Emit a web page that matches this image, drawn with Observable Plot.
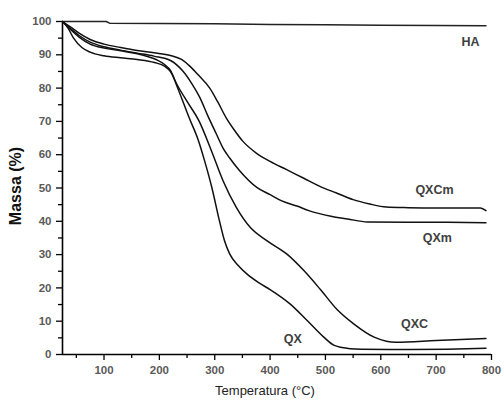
<!DOCTYPE html>
<html><head><meta charset="utf-8">
<script src="https://cdn.jsdelivr.net/npm/d3@7"></script>
<script src="https://cdn.jsdelivr.net/npm/@observablehq/plot@0.6"></script>
<style>
body{margin:0;background:#fff;}
g[aria-label="curve-labels"] text{letter-spacing:1.2px;}
g[aria-label="x-title"] text{letter-spacing:0.5px;}
</style></head><body><div id="chart"></div>
<script>
// Temperature (°C) and mass (%) readings for each sample
const haT = [25, 60, 104, 110, 200, 300, 400, 500, 600, 700, 790];
const haM = [100, 100, 100, 99.5, 99.4, 99.3, 99.1, 99.0, 98.9, 98.8, 98.7];

const qxcmT = [25, 40, 55, 75, 100, 130, 160, 190, 220, 240, 255, 270, 291, 305, 321, 335, 351, 375, 400, 430, 460, 490, 520, 550, 580, 610, 650, 700, 780, 790];
const qxcmM = [100, 98.3, 96.5, 94.6, 93.2, 92.2, 91.3, 90.6, 89.8, 88.6, 86.6, 84, 80, 76, 71, 67.5, 64, 60.5, 58, 55.5, 53, 50.5, 48.5, 46.5, 45.2, 44.3, 44.1, 44.0, 44.0, 43.2];

const qxmT = [25, 40, 55, 75, 100, 130, 160, 190, 220, 242, 258, 273, 288, 303, 315, 327, 345, 376, 400, 420, 450, 470, 510, 540, 576, 650, 720, 790];
const qxmM = [100, 97.8, 95.8, 93.8, 92.4, 91.4, 90.5, 89.6, 88.3, 85.2, 81.5, 77.2, 71.5, 66.2, 62, 59, 55.2, 50.2, 48, 46.2, 44.5, 43.2, 41.5, 40.7, 39.8, 39.7, 39.7, 39.6];

const qxT = [25, 40, 55, 75, 100, 130, 160, 180, 195, 210, 220, 232, 254, 270, 282, 295, 308, 318, 327, 342, 358, 380, 400, 436, 467, 497, 515, 527, 564, 650, 720, 790];
const qxM = [100, 97.5, 95.3, 93.2, 92, 91.2, 90.3, 89.4, 88.5, 87, 85.3, 80.5, 71, 64.5, 58, 50, 40.5, 34, 30.2, 26.8, 24.2, 21.5, 19.5, 15.2, 10.2, 5.2, 2.8, 2.2, 1.6, 1.5, 1.6, 1.9];

const qxcT = [25, 35, 45, 60, 75, 100, 130, 160, 191, 210, 220, 232, 250, 272, 294, 315, 339, 364, 394, 430, 461, 491, 521, 551, 588, 610, 627, 700, 790];
const qxcM = [100, 98, 95, 92.2, 90.8, 89.7, 89.1, 88.6, 87.7, 86.5, 85, 81, 76, 70, 61.2, 52.2, 44.2, 38.2, 34.2, 30.2, 25.2, 19.5, 13.5, 9.2, 5.2, 4.0, 3.7, 4.2, 4.8];

// Curve labels
const labelNames = ["HA", "QXCm", "QXm", "QXC", "QX"];
const labelT = [762, 697, 702, 661, 441];
const labelM = [93.9, 49.5, 35.1, 9.3, 4.8];

// Ticks
const xMajor = [100, 200, 300, 400, 500, 600, 700, 800];
const xMinor = [50, 150, 250, 350, 450, 550, 650, 750];
const yMajor = [0, 10, 20, 30, 40, 50, 60, 70, 80, 90, 100];
const yMinor = [5, 15, 25, 35, 45, 55, 65, 75, 85, 95];

const series = [
  {name: "HA", T: haT, M: haM},
  {name: "QXCm", T: qxcmT, M: qxcmM},
  {name: "QXm", T: qxmT, M: qxmM},
  {name: "QX", T: qxT, M: qxM},
  {name: "QXC", T: qxcT, M: qxcM}
];
const rows = [];
series.forEach(s => s.T.forEach((t, i) => rows.push({series: s.name, T: t, M: s.M[i]})));
const labels = labelNames.map((n, i) => ({name: n, T: labelT[i], M: labelM[i]}));

const tickText = {fontSize: 11.5, fontWeight: "bold", fill: "#5a5a5a", stroke: "black", strokeWidth: 1.3, label: null};

const chart = Plot.plot({
  width: 504, height: 400,
  marginLeft: 62, marginRight: 13, marginTop: 21, marginBottom: 46,
  style: {fontFamily: "Liberation Sans, Arial, sans-serif", background: "#fff"},
  x: {domain: [25, 800]},
  y: {domain: [0, 100]},
  marks: [
    Plot.axisX({...tickText, ticks: xMajor, tickSize: 6, tickPadding: 5}),
    Plot.axisX({ticks: xMinor, tickSize: 4, tickFormat: () => "", stroke: "black", strokeWidth: 1.3, label: null}),
    Plot.axisY({...tickText, ticks: yMajor, tickSize: 6, tickPadding: 5}),
    Plot.axisY({ticks: yMinor, tickSize: 4, tickFormat: () => "", stroke: "black", strokeWidth: 1.3, label: null}),
    Plot.ruleY([0], {strokeWidth: 1.6}),
    Plot.ruleX([25], {y1: 0, y2: 100, strokeWidth: 1.6}),
    Plot.line(rows.filter(d => d.series === "HA"), {x: "T", y: "M", stroke: "#222", strokeWidth: 1.5}),
    Plot.line(rows.filter(d => d.series !== "HA"), {x: "T", y: "M", z: "series", stroke: "#111", strokeWidth: 1.5, curve: "monotone-x"}),
    Plot.text(labels, {x: "T", y: "M", text: "name", fontSize: 12.5, fontWeight: "bold", fill: "#404040", ariaLabel: "curve-labels"}),
    Plot.text(["Temperatura (°C)"], {frameAnchor: "bottom", dx: -12, dy: 40, fontSize: 13, fill: "#222", ariaLabel: "x-title"}),
    Plot.text(["Massa (%)"], {frameAnchor: "left", textAnchor: "middle", dx: -47, dy: -2, rotate: -90, fontSize: 16, fontWeight: "bold", fill: "#111", ariaLabel: "y-title"})
  ]
});
document.getElementById("chart").appendChild(chart);
</script></body></html>
